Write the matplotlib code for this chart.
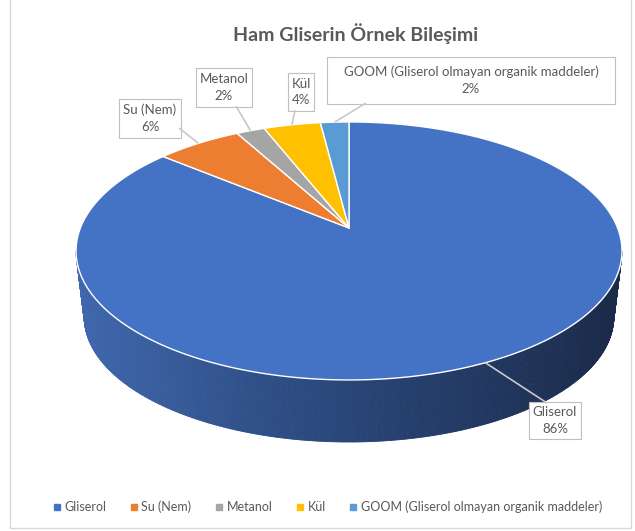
import numpy as np
import matplotlib
matplotlib.use("Agg")
import matplotlib.pyplot as plt
from matplotlib.patches import Polygon, Rectangle
from matplotlib.collections import PolyCollection
from matplotlib.colors import LinearSegmentedColormap
from matplotlib.lines import Line2D

# ---------------- data ----------------
categories = ["Gliserol", "Su (Nem)", "Metanol", "Kül",
              "GOOM (Gliserol olmayan organik maddeler)"]
values = [86, 6, 2, 4, 2]
colors = ["#4472C4", "#ED7D31", "#A5A5A5", "#FFC000", "#5B9BD5"]
title = "Ham Gliserin Örnek Bileşimi"

# label boxes (pixel layout: x0, y0, x1, y1) and leader start points
label_box = [(529, 402, 581, 439), (119, 99, 181, 138), (196, 68, 252, 107),
             (288, 73, 314, 111), (327, 57, 615, 104)]
label_src = [(547, 403), (179, 128), (236, 106), (295, 110), (366, 103)]

plt.rcParams['font.family'] = ['Lato', 'DejaVu Sans']
TXT = "#595959"

W, H = 635, 531
fig = plt.figure(figsize=(6.35, 5.31), dpi=100)
ax = fig.add_axes([0, 0, 1, 1])
ax.set_xlim(0, W)
ax.set_ylim(H, 0)
ax.axis('off')

# chart frame
ax.add_patch(Rectangle((10, -5), 621, 533, fill=False, edgecolor="#D9D9D9", lw=1))

# perspective projection of the pie disk
CX, CY = 349, 228
A, B, K = 268.6, 124.9, 0.178
S, D0 = 0.97, 66.6


def top(theta):
    u, v = np.cos(theta), np.sin(theta)
    den = 1 + K * v
    return CX + A * u / den, CY - B * v / den


def bottom(theta):
    u, v = np.cos(theta), np.sin(theta)
    den = 1 + K * v
    return CX + S * A * u / den, CY + D0 - S * B * v / den


# ---- side wall (front, visible part) with gradient ----
t0 = np.pi + np.arcsin(K)
t1 = 2 * np.pi - np.arcsin(K)
th = np.linspace(t0, t1, 400)
wall_cmap = LinearSegmentedColormap.from_list(
    "wall", [(0.0, "#4068AE"), (0.3, "#30518B"), (0.6, "#25406E"), (1.0, "#1B2A4A")])
xt, yt = top(th)
xb, yb = bottom(th)
quads, qcols = [], []
for i in range(len(th) - 1):
    quads.append([(xt[i], yt[i]), (xt[i + 1], yt[i + 1]), (xb[i + 1], yb[i + 1]), (xb[i], yb[i])])
    xm = 0.5 * (xt[i] + xt[i + 1])
    qcols.append(wall_cmap(np.clip((xm - 76) / 546, 0, 1)))
ax.add_collection(PolyCollection(quads, facecolors=qcols, edgecolors=qcols, linewidths=0.6))

# ---- top face wedges ----
total = float(sum(values))
start = np.pi / 2
mids = []
for val, col in zip(values, colors):
    span = 2 * np.pi * val / total
    ang = np.linspace(start, start - span, max(int(val * 6), 6))
    xs, ys = top(ang)
    pts = [(CX, CY)] + list(zip(xs, ys))
    ax.add_patch(Polygon(pts, closed=True, facecolor=col, edgecolor="white", lw=1.0,
                         joinstyle="round"))
    mids.append(start - span / 2)
    start -= span

# ---- data labels with leader lines ----
for cat, val, mid, box, src in zip(categories, values, mids, label_box, label_src):
    ax_, ay_ = top(mid)
    ax.plot([src[0], ax_], [src[1], ay_], color="#C8C8C8", lw=1.2, solid_capstyle="butt")
    x0, y0, x1, y1 = box
    ax.add_patch(Rectangle((x0, y0), x1 - x0, y1 - y0, facecolor="white",
                           edgecolor="#BFBFBF", lw=0.8))
    cx, cy = (x0 + x1) / 2, (y0 + y1) / 2
    ax.text(cx, cy - 8.5, cat, ha="center", va="center", fontsize=9.5, color=TXT)
    ax.text(cx, cy + 8.5, f"{val}%", ha="center", va="center", fontsize=9.5, color=TXT)

# ---- title ----
ax.text(356, 34, title, ha="center", va="center", fontsize=14, fontweight="bold", color=TXT)

# ---- legend ----
handles = [Line2D([], [], marker="s", ls="", color=c, markersize=4) for c in colors]
fig.legend(handles, categories, ncol=5, loc="center", bbox_to_anchor=(0.516, 0.045),
           frameon=False, fontsize=9, labelcolor=TXT, handletextpad=0.3,
           columnspacing=1.9, handlelength=0.6)

fig.savefig("out.png", dpi=100)
